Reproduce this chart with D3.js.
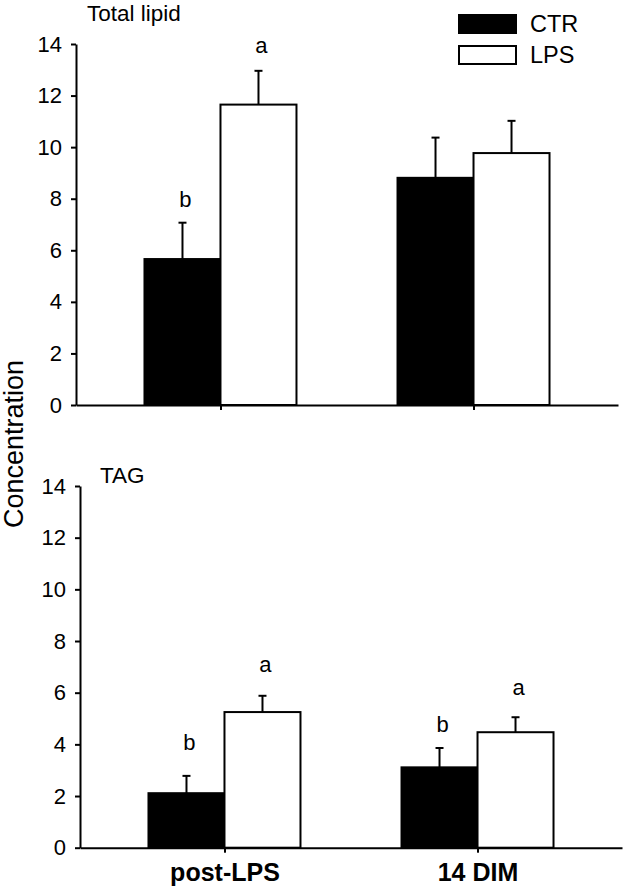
<!DOCTYPE html>
<html>
<head>
<meta charset="utf-8">
<script src="https://cdn.jsdelivr.net/npm/d3@7/dist/d3.min.js"></script>
<style>
  html, body { margin: 0; padding: 0; background: #fff; }
  svg { display: block; }
  text { font-family: "Liberation Sans", Arial, sans-serif; fill: #000; }
</style>
</head>
<body>
<svg id="chart" width="625" height="892"></svg>
<script>
// ---- data ----
const groups = ["post-LPS", "14 DIM"];
const series = ["CTR", "LPS"];
const panelTitles = ["Total lipid", "TAG"];
const yTicks = [0, 2, 4, 6, 8, 10, 12, 14];
const yLabel = "Concentration";

// Total lipid
const lipidCTR = [5.66, 8.81];
const lipidCTRse = [1.41, 1.56];
const lipidLPS = [11.65, 9.77];
const lipidLPSse = [1.31, 1.25];
const lipidCTRletters = ["b", ""];
const lipidLPSletters = ["a", ""];
const lipidCTRletterY = [7.68, null];
const lipidLPSletterY = [13.65, null];

// TAG
const tagCTR = [2.11, 3.11];
const tagCTRse = [0.67, 0.75];
const tagLPS = [5.25, 4.47];
const tagLPSse = [0.63, 0.58];
const tagCTRletters = ["b", "b"];
const tagLPSletters = ["a", "a"];
const tagCTRletterY = [3.78, 4.49];
const tagLPSletterY = [6.81, 5.91];

// ---- build ----
const svg = d3.select("#chart");
const colors = { CTR: "#000", LPS: "#fff" };
const FONT = "Liberation Sans, Arial, sans-serif";

function makeRows(ctr, ctrSe, lps, lpsSe, ctrL, lpsL, ctrLY, lpsLY) {
  const rows = [];
  groups.forEach((g, i) => {
    rows.push({ group: g, series: "CTR", value: ctr[i], se: ctrSe[i], letter: ctrL[i], letterY: ctrLY[i] });
    rows.push({ group: g, series: "LPS", value: lps[i], se: lpsSe[i], letter: lpsL[i], letterY: lpsLY[i] });
  });
  return rows;
}

const panels = [
  { title: panelTitles[0], left: 76, right: 618, top: 44, bottom: 405, showX: false,
    titleX: 87, titleY: 21, titleSize: 22.5,
    rows: makeRows(lipidCTR, lipidCTRse, lipidLPS, lipidLPSse, lipidCTRletters, lipidLPSletters, lipidCTRletterY, lipidLPSletterY) },
  { title: panelTitles[1], left: 80, right: 622, top: 486, bottom: 847.7, showX: true,
    titleX: 100, titleY: 482.5, titleSize: 22.5,
    rows: makeRows(tagCTR, tagCTRse, tagLPS, tagLPSse, tagCTRletters, tagLPSletters, tagCTRletterY, tagLPSletterY) }
];

panels.forEach(p => {
  const g = svg.append("g").attr("transform", `translate(${p.left},0)`);
  const w = p.right - p.left;
  const x = d3.scalePoint().domain(groups).range([0, w]).padding(0.571);
  const xs = d3.scaleBand().domain(series).range([-76, 76]).paddingInner(0).paddingOuter(0);
  const y = d3.scaleLinear().domain([0, 14]).range([p.bottom, p.top]);
  const cx = d => x(d.group) + xs(d.series) + xs.bandwidth() / 2;

  // bars
  g.selectAll("rect.bar").data(p.rows).join("rect")
    .attr("class", "bar")
    .attr("x", d => x(d.group) + xs(d.series))
    .attr("y", d => y(d.value))
    .attr("width", xs.bandwidth())
    .attr("height", d => y(0) - y(d.value))
    .attr("fill", d => colors[d.series])
    .attr("stroke", "#000")
    .attr("stroke-width", 2);

  // error bars (upper only)
  const eb = g.selectAll("g.err").data(p.rows).join("g").attr("class", "err");
  eb.append("line")
    .attr("x1", cx).attr("x2", cx)
    .attr("y1", d => y(d.value))
    .attr("y2", d => y(d.value + d.se))
    .attr("stroke", "#000").attr("stroke-width", 2);
  eb.append("line")
    .attr("x1", d => cx(d) - 4)
    .attr("x2", d => cx(d) + 4)
    .attr("y1", d => y(d.value + d.se))
    .attr("y2", d => y(d.value + d.se))
    .attr("stroke", "#000").attr("stroke-width", 2);

  // letters
  g.selectAll("text.letter").data(p.rows.filter(d => d.letter)).join("text")
    .attr("class", "letter")
    .attr("x", d => cx(d) + 3)
    .attr("y", d => y(d.letterY))
    .attr("text-anchor", "middle")
    .attr("font-size", 22)
    .text(d => d.letter);

  // y axis
  const ya = g.append("g")
    .call(d3.axisLeft(y).tickValues(yTicks).tickSize(5).tickSizeOuter(0).tickPadding(9).tickFormat(d3.format("d")));
  ya.select(".domain").attr("stroke-width", 2);
  ya.selectAll(".tick line").attr("stroke-width", 2);
  ya.selectAll(".tick text").attr("font-size", 22).attr("font-family", FONT);

  // x axis
  const xa = g.append("g").attr("transform", `translate(0,${y(0)})`)
    .call(d3.axisBottom(x).tickSize(5).tickSizeOuter(0).tickPadding(0));
  xa.select(".domain").attr("stroke-width", 2);
  xa.selectAll(".tick line").attr("stroke-width", 2);
  xa.selectAll(".tick text")
    .attr("font-size", 25).attr("font-weight", "bold")
    .attr("font-family", FONT)
    .attr("dy", null)
    .attr("y", 33)
    .style("display", p.showX ? null : "none");

  // panel title
  svg.append("text")
    .attr("x", p.titleX).attr("y", p.titleY)
    .attr("font-size", p.titleSize)
    .text(p.title);
});

// legend
const legend = svg.append("g");
series.forEach((s, i) => {
  const ly = [15, 46][i];
  legend.append("rect")
    .attr("x", 459).attr("y", ly)
    .attr("width", 57).attr("height", 18)
    .attr("fill", colors[s]).attr("stroke", "#000").attr("stroke-width", 2);
  legend.append("text")
    .attr("x", 530).attr("y", ly + 17)
    .attr("font-size", 23.5)
    .text(s);
});

// y label
svg.append("text")
  .attr("transform", "translate(23,444) rotate(-90)")
  .attr("text-anchor", "middle")
  .attr("font-size", 27)
  .text(yLabel);
</script>
</body>
</html>
